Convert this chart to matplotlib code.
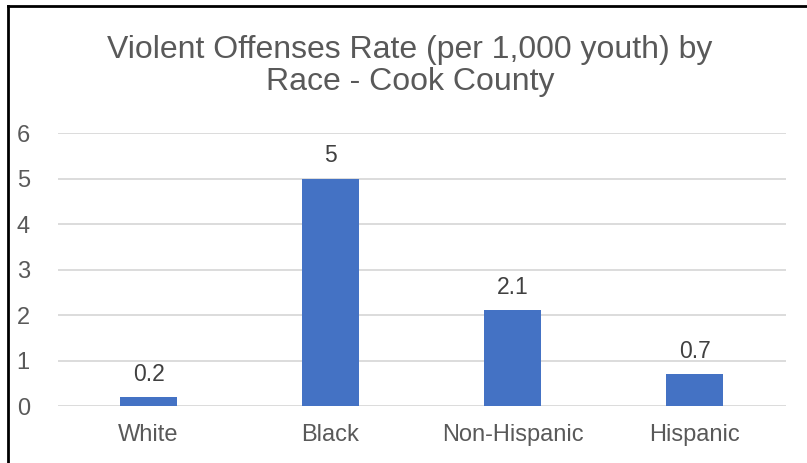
import matplotlib
matplotlib.use("Agg")
import matplotlib.pyplot as plt
from matplotlib.lines import Line2D

categories = ["White", "Black", "Non-Hispanic", "Hispanic"]
rates = [0.2, 5, 2.1, 0.7]
value_labels = ["0.2", "5", "2.1", "0.7"]
y_ticks = [0, 1, 2, 3, 4, 5, 6]

plt.rcParams["font.family"] = ["Liberation Sans", "DejaVu Sans"]

fig = plt.figure(figsize=(8.07, 4.63), dpi=100)
ax = fig.add_axes([0.0713, 0.1231, 0.9021, 0.5896])

x = range(len(categories))
bars = ax.bar(x, rates, width=0.31, color="#4472C4", zorder=3)

ax.set_xlim(-0.5, len(categories) - 0.5)
ax.set_ylim(0, 6)
ax.set_yticks(y_ticks)
ax.set_yticklabels([str(t) for t in y_ticks])
ax.set_xticks(list(x))
ax.set_xticklabels(categories)

ax.grid(axis="y", color="#D9D9D9", linewidth=1.3, zorder=0)
for s in ax.spines.values():
    s.set_visible(False)
ax.tick_params(axis="both", length=0, labelsize=17, colors="#595959")
ax.tick_params(axis="y", pad=20)
ax.tick_params(axis="x", pad=13)

for b, lab in zip(bars, value_labels):
    ax.annotate(lab, (b.get_x() + b.get_width() / 2, b.get_height()),
                xytext=(0, 8), textcoords="offset points",
                ha="center", va="bottom", fontsize=16.5, color="#404040")

fig.text(0.508, 0.858, "Violent Offenses Rate (per 1,000 youth) by\nRace - Cook County",
         ha="center", va="center", fontsize=23, color="#595959", linespacing=1.1)

# outer frame (left and top edges)
fig.add_artist(Line2D([7.5 / 807, 7.5 / 807], [0, 1 - 6 / 463],
                      transform=fig.transFigure, color="black", linewidth=2))
fig.add_artist(Line2D([7.5 / 807, 1], [1 - 6 / 463, 1 - 6 / 463],
                      transform=fig.transFigure, color="black", linewidth=2))

fig.savefig("out.png", dpi=100)
